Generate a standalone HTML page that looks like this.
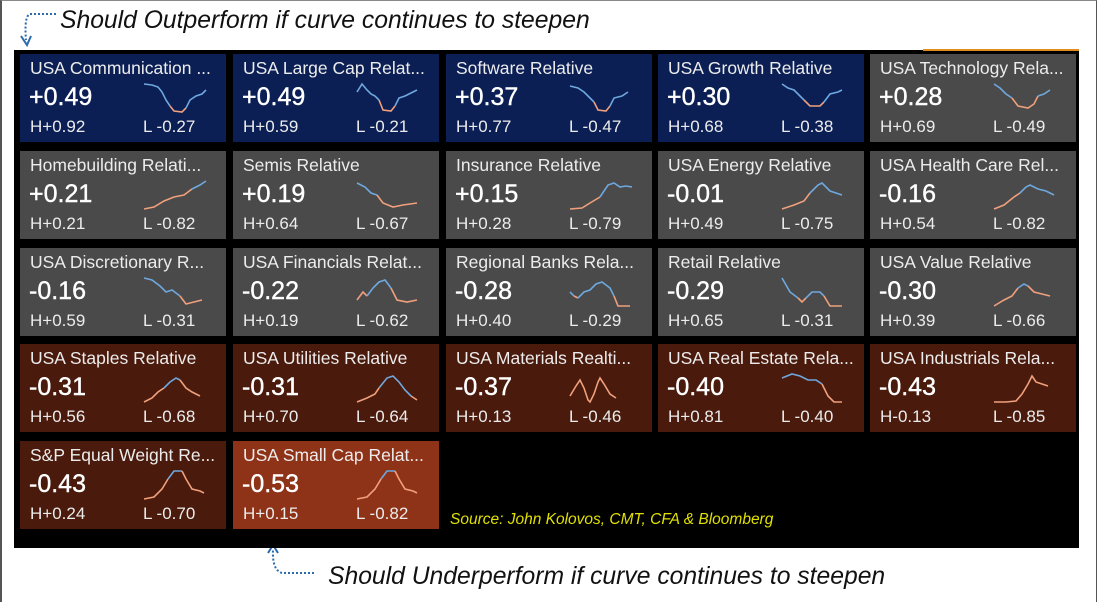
<!DOCTYPE html>
<html><head><meta charset="utf-8"><style>
*{margin:0;padding:0;box-sizing:border-box}
body{width:1100px;height:602px;background:#fff;position:relative;overflow:hidden;font-family:"Liberation Sans",sans-serif}
.frame{position:absolute;left:0;top:0;width:1097px;height:602px;border-left:2px solid #555;border-right:1px solid #555;border-top:1px solid #888}
.panel{position:absolute;left:14px;top:50px;width:1065px;height:498px;background:#000}
.or{position:absolute;left:923px;top:49px;width:156px;height:2px;background:#e08a20}
.t{position:absolute;width:206px;height:88px;color:#ececec}
.b{background:#0b1f55}.g{background:#4a4a4a}.r{background:#4a1a0c}.o{background:#8f3318}
.n{position:absolute;left:10px;top:4px;font-size:17.5px;white-space:nowrap}
.v{position:absolute;left:9px;top:29px;font-size:25px;color:#fff;-webkit-text-stroke:0.4px #fff}
.h{position:absolute;left:10px;top:63px;font-size:17px}
.l{position:absolute;left:123px;top:63px;font-size:17px}
svg.s{position:absolute;left:124px;top:30px;width:66px;height:32px;overflow:visible}
svg.s polyline{fill:none;stroke-width:1.6}
.bl{stroke:#6fa8de}.og{stroke:#f0a07c}
.cap{position:absolute;font-style:italic;font-size:24.7px;color:#111;white-space:nowrap}
.src{position:absolute;left:450px;top:511px;font-style:italic;font-size:15.5px;color:#e0e000}
</style></head><body>
<div class="frame"></div>
<div class="cap" style="left:60px;top:7px">Should Outperform if curve continues to steepen</div>
<div class="cap" style="left:328px;top:563px">Should Underperform if curve continues to steepen</div>
<svg style="position:absolute;left:0;top:0" width="1100" height="602">
<path d="M56,14 L30,14 Q24,16 26,40" fill="none" stroke="#2a6aad" stroke-width="2" stroke-dasharray="2,2"/>
<path d="M21,36 L27,45 L31,36" fill="none" stroke="#2a6aad" stroke-width="2"/>
<path d="M314,573 L282,573 Q272,570 273,550" fill="none" stroke="#2a6aad" stroke-width="2" stroke-dasharray="2,2"/>
<path d="M268,553 L273,545 L278,553" fill="none" stroke="#2a6aad" stroke-width="2"/>
</svg>
<div class="panel"></div>
<div class="or"></div>

<div class="t b" style="left:20px;top:54px"><div class="n">USA Communication ...</div><div class="v">+0.49</div><div class="h">H+0.92</div><div class="l">L -0.27</div><svg class="s"><polyline class="bl" points="0,0 8,1 14,3 18,8 22,16 26,22"/><polyline class="og" points="26,22 30,27 38,28 42,24"/><polyline class="bl" points="42,24 46,16 52,12 58,10 62,6"/></svg></div>
<div class="t b" style="left:233px;top:54px"><div class="n">USA Large Cap Relat...</div><div class="v">+0.49</div><div class="h">H+0.59</div><div class="l">L -0.21</div><svg class="s"><polyline class="bl" points="0,8 5,0 10,6 14,10 18,12 22,16"/><polyline class="og" points="22,16 26,26 34,27 38,22"/><polyline class="bl" points="38,22 42,14 48,12 56,8 60,6"/></svg></div>
<div class="t b" style="left:446px;top:54px"><div class="n">Software Relative</div><div class="v">+0.37</div><div class="h">H+0.77</div><div class="l">L -0.47</div><svg class="s"><polyline class="bl" points="0,2 8,4 14,8 20,14 24,18"/><polyline class="og" points="24,18 28,26 36,27 40,22"/><polyline class="bl" points="40,22 44,14 52,12 58,8"/></svg></div>
<div class="t b" style="left:658px;top:54px"><div class="n">USA Growth Relative</div><div class="v">+0.30</div><div class="h">H+0.68</div><div class="l">L -0.38</div><svg class="s"><polyline class="bl" points="0,0 6,4 12,6 18,12 22,16"/><polyline class="og" points="22,16 28,22 38,22 42,18"/><polyline class="bl" points="42,18 48,10 56,8 60,6"/></svg></div>
<div class="t g" style="left:870px;top:54px"><div class="n">USA Technology Rela...</div><div class="v">+0.28</div><div class="h">H+0.69</div><div class="l">L -0.49</div><svg class="s"><polyline class="bl" points="0,0 6,4 12,10 18,14"/><polyline class="og" points="18,14 24,22 34,24 40,20 44,12"/><polyline class="bl" points="44,12 50,10 56,6"/></svg></div>

<div class="t g" style="left:20px;top:151px"><div class="n">Homebuilding Relati...</div><div class="v">+0.21</div><div class="h">H+0.21</div><div class="l">L -0.82</div><svg class="s"><polyline class="og" points="0,28 10,26 20,20 30,16 40,14 48,8"/><polyline class="bl" points="48,8 56,4 62,0"/></svg></div>
<div class="t g" style="left:233px;top:151px"><div class="n">Semis Relative</div><div class="v">+0.19</div><div class="h">H+0.64</div><div class="l">L -0.67</div><svg class="s"><polyline class="bl" points="0,2 8,6 14,12 20,14"/><polyline class="og" points="20,14 26,22 36,26 46,24 60,22"/></svg></div>
<div class="t g" style="left:446px;top:151px"><div class="n">Insurance Relative</div><div class="v">+0.15</div><div class="h">H+0.28</div><div class="l">L -0.79</div><svg class="s"><polyline class="og" points="0,28 12,27 20,22 30,16"/><polyline class="bl" points="30,16 38,4 44,2 50,6 56,5 62,6"/></svg></div>
<div class="t g" style="left:658px;top:151px"><div class="n">USA Energy Relative</div><div class="v">-0.01</div><div class="h">H+0.49</div><div class="l">L -0.75</div><svg class="s"><polyline class="og" points="0,28 12,24 22,20 28,12"/><polyline class="bl" points="28,12 36,4 40,2 48,10 60,14"/></svg></div>
<div class="t g" style="left:870px;top:151px"><div class="n">USA Health Care Rel...</div><div class="v">-0.16</div><div class="h">H+0.54</div><div class="l">L -0.82</div><svg class="s"><polyline class="og" points="0,28 10,24 20,16 26,12"/><polyline class="bl" points="26,12 32,6 36,4 44,8 52,10 60,14"/></svg></div>

<div class="t g" style="left:20px;top:248px"><div class="n">USA Discretionary R...</div><div class="v">-0.16</div><div class="h">H+0.59</div><div class="l">L -0.31</div><svg class="s"><polyline class="bl" points="0,0 8,2 16,8 22,14 28,12 36,18"/><polyline class="og" points="36,18 42,26 50,24 58,22"/></svg></div>
<div class="t g" style="left:233px;top:248px"><div class="n">USA Financials Relat...</div><div class="v">-0.22</div><div class="h">H+0.19</div><div class="l">L -0.62</div><svg class="s"><polyline class="og" points="0,22 6,14 10,18"/><polyline class="bl" points="10,18 16,10 22,4 28,2 34,10"/><polyline class="og" points="34,10 40,22 50,24 60,22"/></svg></div>
<div class="t g" style="left:446px;top:248px"><div class="n">Regional Banks Rela...</div><div class="v">-0.28</div><div class="h">H+0.40</div><div class="l">L -0.29</div><svg class="s"><polyline class="bl" points="0,14 4,18"/><polyline class="og" points="4,18 8,20"/><polyline class="bl" points="8,20 14,14 20,12 26,6 32,4 40,10 44,18"/><polyline class="og" points="44,18 48,28 60,28"/></svg></div>
<div class="t g" style="left:658px;top:248px"><div class="n">Retail Relative</div><div class="v">-0.29</div><div class="h">H+0.65</div><div class="l">L -0.31</div><svg class="s"><polyline class="bl" points="0,0 8,14 16,20"/><polyline class="og" points="16,20 20,24 24,20"/><polyline class="bl" points="24,20 30,14 38,14 42,18"/><polyline class="og" points="42,18 48,28 60,28"/></svg></div>
<div class="t g" style="left:870px;top:248px"><div class="n">USA Value Relative</div><div class="v">-0.30</div><div class="h">H+0.39</div><div class="l">L -0.66</div><svg class="s"><polyline class="og" points="0,28 10,22 18,18 24,10"/><polyline class="bl" points="24,10 30,6 34,8"/><polyline class="og" points="34,8 40,14 48,16 56,18"/></svg></div>

<div class="t r" style="left:20px;top:344px"><div class="n">USA Staples Relative</div><div class="v">-0.31</div><div class="h">H+0.56</div><div class="l">L -0.68</div><svg class="s"><polyline class="og" points="0,28 8,24 14,18 20,14"/><polyline class="bl" points="20,14 26,8 32,4 36,6"/><polyline class="og" points="36,6 42,14 48,18 56,22"/></svg></div>
<div class="t r" style="left:233px;top:344px"><div class="n">USA Utilities Relative</div><div class="v">-0.31</div><div class="h">H+0.70</div><div class="l">L -0.64</div><svg class="s"><polyline class="og" points="0,28 10,24 18,20 22,14"/><polyline class="bl" points="22,14 30,4 36,2 42,8 48,16 54,22"/><polyline class="og" points="54,22 60,26"/></svg></div>
<div class="t r" style="left:446px;top:344px"><div class="n">USA Materials Realti...</div><div class="v">-0.37</div><div class="h">H+0.13</div><div class="l">L -0.46</div><svg class="s"><polyline class="og" points="0,22 6,12 10,6 14,14 18,26 20,28 24,20 28,8 30,4 34,10 40,20 46,24"/></svg></div>
<div class="t r" style="left:658px;top:344px"><div class="n">USA Real Estate Rela...</div><div class="v">-0.40</div><div class="h">H+0.81</div><div class="l">L -0.40</div><svg class="s"><polyline class="bl" points="0,4 10,0 18,2 26,6 34,6 40,10"/><polyline class="og" points="40,10 46,22 52,28 60,28"/></svg></div>
<div class="t r" style="left:870px;top:344px"><div class="n">USA Industrials Rela...</div><div class="v">-0.43</div><div class="h">H-0.13</div><div class="l">L -0.85</div><svg class="s"><polyline class="og" points="0,28 12,28 22,27 28,20 34,10 38,2 42,8 48,10 54,12"/></svg></div>

<div class="t r" style="left:20px;top:441px"><div class="n">S&amp;P Equal Weight Re...</div><div class="v">-0.43</div><div class="h">H+0.24</div><div class="l">L -0.70</div><svg class="s"><polyline class="og" points="0,28 10,26 18,18 24,8"/><polyline class="bl" points="24,8 30,0 38,0"/><polyline class="og" points="38,0 42,8 48,18 56,20 60,22"/></svg></div>
<div class="t o" style="left:233px;top:441px"><div class="n">USA Small Cap Relat...</div><div class="v">-0.53</div><div class="h">H+0.15</div><div class="l">L -0.82</div><svg class="s"><polyline class="og" points="0,28 10,26 18,18 24,8"/><polyline class="bl" points="24,8 30,0 38,0"/><polyline class="og" points="38,0 42,8 48,18 56,20 60,22"/></svg></div>

<div class="src">Source: John Kolovos, CMT, CFA &amp; Bloomberg</div>
</body></html>
